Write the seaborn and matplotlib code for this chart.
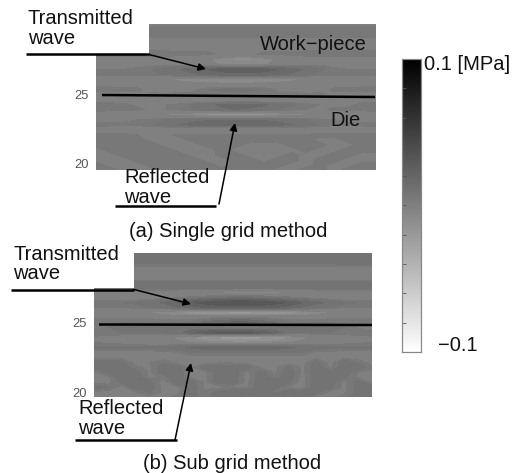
import numpy as np
import matplotlib
matplotlib.use("Agg")
import matplotlib.pyplot as plt
from matplotlib.patches import Rectangle
import seaborn as sns

# pressure, in kPa (rows top to bottom, columns left to right)
single_grid = [
    [ 3, 3, 3, 3, 3, 3, 3, 3, 3, 3, 3, 3, 3, 3, 3, 3, 3, 3, 3, 3, 3],
    [ 5, 5, 5, 5, 5, 5, 5, 5, 5, 5, 5, 5, 5, 5, 5, 5, 5, 5, 5, 5, 5],
    [ 6, 6, 6, 6, 6, 6, 6, 6, 6, 6, 6, 6, 6, 6, 6, 6, 6, 6, 6, 6, 6],
    [ 3, 3, 3, 3, 3, 3, 3, 3, 3, 3, 3, 3, 3, 3, 3, 3, 3, 3, 3, 3, 3],
    [ 0, 0, 0, 0, 0, 0, 0, 1, 1, 1, 1, 1, 1, 1, 0, 0, 0, 0, 0, 0, 0],
    [ 3, 3, 3, 3, 3, 3, 3, 3, 3, 3, 3, 3, 3, 3, 3, 3, 3, 3, 3, 3, 3],
    [ 6, 6, 6, 6, 6, 6, 5, 5, 5, 3, 3, 3, 5, 5, 5, 6, 6, 6, 6, 6, 6],
    [ 2, 2, 2, 2, 2, 2, 1, 0,-4,-8,-12,-12,-8,-4, 0, 1, 2, 2, 2, 2, 2],
    [ 1, 1, 2, 2, 2, 3, 2, 0,-3,-6,-8,-8,-6,-2, 0, 2, 3, 2, 1, 1, 1],
    [ 4, 4, 4, 5, 7, 9,13,16,20,23,24,24,23,20,16,12, 8, 5, 4, 4, 4],
    [ 5, 5, 5, 5, 6, 8,10,12,15,17,18,18,17,15,12, 9, 6, 5, 5, 5, 5],
    [ 2, 1, 0,-1,-3,-5,-7,-9,-10,-11,-11,-11,-10,-9,-7,-5,-3,-1, 0, 1, 2],
    [ 3, 3, 2, 2, 1, 0,-1,-2,-2,-3,-3,-3,-2,-2,-1, 0, 1, 2, 2, 3, 3],
    [ 5, 5, 5, 5, 2, 1, 2, 3, 7, 8, 8, 8, 7, 3, 2, 1, 2, 5, 5, 5, 5],
    [ 3, 3, 3, 3, 5, 5, 5, 5, 5, 5, 5, 5, 5, 5, 5, 5, 5, 3, 3, 3, 3],
    [ 2, 2, 1, 0,-1,-2,-3,-4,-6,-6,-6,-6,-6,-4,-3,-2,-1, 0, 1, 2, 2],
    [ 5, 5, 5, 3, 3, 4, 5, 8,12,14,15,15,14,11, 8, 5, 4, 3, 3, 5, 5],
    [ 5, 5, 5, 5, 3, 4, 5, 7,10,12,13,12,10, 7, 5, 4, 3, 5, 5, 5, 5],
    [ 2, 1, 0,-1,-3,-6,-8,-11,-14,-16,-17,-16,-14,-11,-8,-6,-3,-1, 0, 1, 2],
    [ 3, 3, 3, 4, 5, 7, 9,11,12,12,12,12,12,11, 9, 7, 5, 4, 3, 3, 3],
    [ 5, 5, 5, 5, 7,10,13,15,17,18,18,18,17,15,13,10, 7, 5, 5, 5, 5],
    [ 2, 1, 0, 0,-1,-2,-3,-4,-6,-6,-6,-6,-6,-4,-3,-2,-1, 0, 0, 1, 2],
    [ 5, 5, 5, 4, 3, 3, 5, 5, 5, 5, 5, 5, 5, 5, 5, 5, 5, 5, 5, 5, 5],
    [ 5, 5, 5, 5, 3, 3, 3, 5, 5, 5, 5, 5, 5, 5, 5, 5, 3, 3, 5, 5, 5],
    [ 5, 5, 5, 5, 5, 3, 3, 3, 5, 5, 5, 3, 3, 3, 5, 5, 5, 3, 3, 5, 5],
    [ 3, 5, 5, 5, 5, 5, 3, 3, 3, 5, 3, 3, 3, 3, 3, 5, 3, 3, 5, 5, 5],
    [ 3, 3, 5, 5, 5, 5, 5, 3, 3, 5, 5, 3, 3, 3, 5, 3, 3, 5, 5, 3, 3],
    [ 3, 3, 3, 5, 5, 5, 5, 5, 3, 3, 5, 5, 3, 5, 5, 3, 5, 5, 3, 3, 3],
    [ 5, 3, 3, 3, 5, 5, 5, 5, 5, 3, 5, 5, 5, 5, 3, 3, 5, 3, 3, 5, 5],
    [ 5, 5, 3, 3, 3, 5, 5, 5, 5, 5, 5, 5, 5, 3, 3, 5, 5, 3, 5, 5, 5],
]

sub_grid = [
    [ 8, 8, 8, 8, 8, 8, 8, 8, 8, 8, 8, 8, 8, 8, 8, 8, 8, 8, 8, 8, 8],
    [ 9, 9, 9, 9, 9, 9, 9, 9, 9, 9, 9, 9, 9, 9, 9, 9, 9, 9, 9, 9, 9],
    [ 8, 8, 8, 8, 8, 8, 8, 8, 8, 8, 8, 8, 8, 8, 8, 8, 8, 8, 9, 9, 9],
    [ 2, 2, 2, 2, 2, 2, 2, 2, 2, 2, 2, 2, 2, 2, 2, 2, 2, 2, 2, 2, 2],
    [-1,-1,-1,-1,-1,-1,-1,-1,-1,-1,-1,-1,-1,-1,-1,-1,-1,-1,-1,-1,-1],
    [ 0, 0, 0, 0, 0, 0, 0, 0, 0, 0, 0, 0, 0, 0, 0, 0, 0, 0, 0, 0, 0],
    [ 9, 9, 9, 9, 9, 9, 9, 9, 9, 9, 9, 9, 9, 9, 9, 9, 9, 9, 9, 9, 9],
    [ 9, 9, 9, 9, 9, 9, 9, 9, 8, 8, 8, 8, 8, 8, 9, 9, 9, 9, 9, 9, 9],
    [-2,-2,-2,-2,-2,-2,-2,-3,-6,-7,-8,-9,-9,-8,-6,-3,-2,-2,-2,-2,-2],
    [ 0, 0, 0, 0, 1, 2, 4, 6, 9,11,12,12,11, 9, 6, 4, 2, 1, 0, 0, 0],
    [ 7, 7, 7, 8,10,14,20,26,30,33,35,35,33,30,26,20,15,11, 8, 7, 7],
    [ 4, 4, 4, 5, 7, 8,12,16,20,22,23,23,22,20,16,12, 8, 7, 4, 4, 4],
    [-1,-2,-3,-4,-6,-10,-13,-17,-20,-22,-24,-24,-22,-20,-17,-13,-9,-6,-3,-2,-1],
    [ 3, 3, 3, 3, 3, 2, 1, 1, 2, 4, 5, 5, 4, 2, 1, 1, 2, 3, 3, 3, 3],
    [ 7, 7, 7, 7, 7, 7, 7, 8,15,19,22,22,19,14, 8, 7, 7, 7, 7, 7, 7],
    [ 3, 7, 8, 8, 8, 8, 8, 8, 7, 5, 3, 3, 5, 7, 8, 8, 8, 8, 7, 3, 2],
    [ 7, 7, 7, 7, 8, 8,10,18,25,28,29,28,25,18,10, 8, 8, 7, 7, 7, 7],
    [ 3, 2, 1, 0,-1,-3,-7,-12,-18,-22,-24,-24,-22,-18,-12,-7,-3,-1, 0, 2, 3],
    [ 4, 3, 2, 1,-1,-2,-3,-6,-8,-9,-10,-10,-9,-8,-6,-3,-2, 0, 2, 3, 4],
    [ 8, 8, 8, 8, 8, 9,11,14,17,18,18,18,18,17,14,12,10, 8, 8, 8, 8],
    [ 2, 2, 2, 2, 2, 3, 4, 7, 7, 7, 7, 7, 7, 7, 7, 7, 3, 3, 2, 2, 2],
    [ 2, 2, 2, 2, 2, 2, 2, 2, 2, 2, 2, 2, 2, 2, 2, 2, 2, 2, 2, 2, 2],
    [10,10, 8, 2, 4, 6, 3, 2, 2, 3, 3, 2, 2, 2, 2, 2, 9, 2,10, 6, 2],
    [ 8,10,10, 5, 3,10, 9, 3, 9,10,10, 9, 3, 3, 8, 3,10, 3,10,10, 5],
    [ 3, 9,10, 9, 3,10,10, 3, 3,10,10, 3, 9, 3,10, 3,10, 9,10, 4, 3],
    [ 2, 3,10,10, 3, 5,10, 3, 3,10,10, 2,10, 5,10, 2,10,10, 8, 3, 3],
    [ 2, 2, 8,10, 8, 2,10, 9, 3, 9,10, 3,10,10, 8, 2,10, 9, 3, 9, 3],
    [ 9, 7, 2, 9,10, 2, 3,10, 3, 3, 3, 3,10, 9, 3, 2,10, 9, 3, 9, 9],
    [ 3, 3, 2, 4, 7, 3, 3, 8, 5, 8,10,10, 8, 6,10,10, 8, 3, 3, 8, 9],
    [ 3, 3, 2, 3, 3, 3, 5, 9, 5,10,10, 5,10,10, 5,10, 3, 3, 5,10,10],
]

y_tick_labels = ["25", "20"]
single_tick_rows = [14.0, 27.8]
sub_tick_rows = [14.0, 28.0]
colorbar_ticks = [-100, -80, -60, -40, -20, 0, 20, 40, 60, 80, 100]
contour_levels = [-45, -35, -25, -18, -11, -5, 4, 7, 13, 20, 27, 35, 45]

W, H = 520, 473
plt.rcParams["font.family"] = ["Liberation Sans", "DejaVu Sans"]


def px_axes(fig, x0, y0, x1, y1, **kw):
    return fig.add_axes([x0 / W, 1 - y1 / H, (x1 - x0) / W, (y1 - y0) / H], **kw)


def draw_panel(ax, grid, tick_rows, cbar, cax=None):
    arr = np.array(grid)
    sns.heatmap(arr, ax=ax, cmap="gray_r", vmin=-100, vmax=100, cbar=cbar, cbar_ax=cax,
                shading="gouraud", xticklabels=False, yticklabels=False)
    # the original plot has stepped tones, so put filled contours over the smooth mesh
    ax.contourf(arr, levels=contour_levels, cmap="gray_r", vmin=-100, vmax=100)
    ax.set_xlim(0, arr.shape[1] - 1)
    ax.set_ylim(arr.shape[0] - 1, 0)
    ax.set_yticks(tick_rows, y_tick_labels)
    ax.tick_params(axis="y", length=0, pad=5, labelsize=9.3, labelcolor="#555555", rotation=0)
    ax.set_xlabel("")
    ax.set_ylabel("")


fig = plt.figure(figsize=(W / 100, H / 100), dpi=100, facecolor="white")
ax_a = px_axes(fig, 96, 24, 376, 170)
ax_b = px_axes(fig, 94, 253, 372, 397)
cax = px_axes(fig, 402, 59, 421, 352)

draw_panel(ax_a, single_grid, single_tick_rows, True, cax)
draw_panel(ax_b, sub_grid, sub_tick_rows, False)

cax.set_yticks(colorbar_ticks, [""] * len(colorbar_ticks))
cax.yaxis.set_ticks_position("left")
cax.tick_params(axis="y", direction="in", length=3, width=0.6, color="#555555")
for s in cax.spines.values():
    s.set_visible(True)
    s.set_color("#888888")
    s.set_linewidth(0.8)

# labels and arrows sit on a transparent overlay in pixel coords
over = fig.add_axes([0, 0, 1, 1], facecolor="none")
over.set_xlim(0, W)
over.set_ylim(H, 0)
over.axis("off")

over.add_patch(Rectangle((90, 18), 59, 36, fc="white", ec="none"))
over.add_patch(Rectangle((88, 247), 46, 41, fc="white", ec="none"))


def label(x, y, s, size=14.5):
    over.text(x, y, s, fontsize=size, va="center", ha="left", color="#111111")


def rule(x0, y0, x1, y1, lw=1.8):
    over.plot([x0, x1], [y0, y1], color="black", lw=lw, solid_capstyle="butt")


def arrow(x0, y0, x1, y1):
    over.annotate("", xy=(x1, y1), xytext=(x0, y0),
                  arrowprops=dict(arrowstyle="-|>", color="black", lw=1.1, mutation_scale=11,
                                  shrinkA=0, shrinkB=0))


label(28, 18, "Transmitted")
label(28, 38, "wave")
rule(26, 54.5, 149, 54.5)
arrow(149, 54.5, 206, 69)
label(260, 44, "Work\u2212piece")
rule(102, 95, 375, 97)
label(330, 120, "Die")
label(124, 177, "Reflected")
label(124, 197, "wave")
rule(115, 206, 216, 206)
arrow(219, 204, 235, 123)
label(129, 231, "(a) Single grid method")

label(13, 254, "Transmitted")
label(13, 273, "wave")
rule(11, 289.5, 134, 289.5)
arrow(134, 289.5, 191, 304)
rule(99, 324.5, 372, 325)
label(78, 408, "Reflected")
label(78, 428, "wave")
rule(75, 440, 177, 440)
arrow(175, 440, 191, 363)
label(143, 463, "(b) Sub grid method")

label(424, 65, "0.1 [MPa]")
label(438, 345, "\u22120.1")

fig.savefig("out.png", dpi=100, facecolor="white")
